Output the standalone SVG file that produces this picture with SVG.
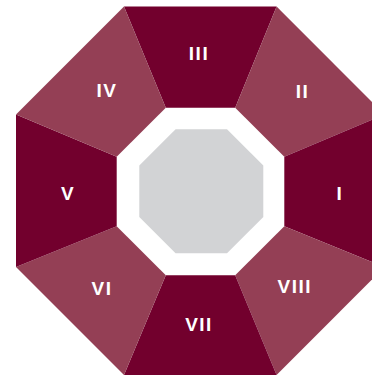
<svg xmlns="http://www.w3.org/2000/svg" width="372" height="377" viewBox="0 0 372 377">
  <style>
    .dark { fill: #72002d; }
    .light { fill: #943f55; }
    .core { fill: #d2d3d5; }
    .lbl { fill: #ffffff; font-family: "Liberation Sans", Arial, sans-serif; font-weight: bold; font-size: 19px; letter-spacing: 1.5px; text-anchor: middle; }
  </style>
  <rect width="372" height="377" fill="#ffffff"/>
  <g id="seg-III"><polygon class="dark" points="124,6.5 276.6,6.5 235.2,107.7 165.8,107.7"/><text class="lbl" x="199" y="60">III</text></g>
  <g id="seg-II"><polygon class="light" points="276.6,6.5 384.5,114.4 284.3,156.8 235.2,107.7"/><text class="lbl" x="302.5" y="98">II</text></g>
  <g id="seg-I"><polygon class="dark" points="384.5,114.4 384.5,267.1 284.3,226.2 284.3,156.8"/><text class="lbl" x="340" y="200">I</text></g>
  <g id="seg-VIII"><polygon class="light" points="384.5,267.1 276.6,375 235.2,275.3 284.3,226.2"/><text class="lbl" x="294.8" y="292.7">VIII</text></g>
  <g id="seg-VII"><polygon class="dark" points="276.6,375 124,375 165.8,275.3 235.2,275.3"/><text class="lbl" x="199" y="331">VII</text></g>
  <g id="seg-VI"><polygon class="light" points="124,375 16,267.1 116.7,226.2 165.8,275.3"/><text class="lbl" x="102" y="295">VI</text></g>
  <g id="seg-V"><polygon class="dark" points="16,267.1 16,114.4 116.7,156.8 116.7,226.2"/><text class="lbl" x="68.2" y="199.5">V</text></g>
  <g id="seg-IV"><polygon class="light" points="16,114.4 124,6.5 165.8,107.7 116.7,156.8"/><text class="lbl" x="107" y="97">IV</text></g>
  <g id="core"><polygon class="core" points="175.6,129.3 227,129.3 263.3,165.6 263.3,217 227,253.3 175.6,253.3 139.3,217 139.3,165.6"/></g>
  <g id="connectors"></g>
</svg>
